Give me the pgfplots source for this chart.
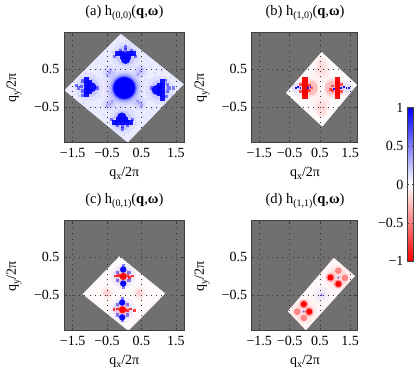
\documentclass[border=0pt]{standalone}
\usepackage{fontspec}
\setmainfont{Liberation Serif}
\usepackage{pgfplots}
\pgfplotsset{compat=1.18}
\definecolor{bg}{gray}{0.44}
\definecolor{frame}{gray}{0.25}
\newcommand{\B}[4]{\addplot[only marks,mark=*,mark size=#2,mark options={draw=#1,draw opacity=0,line width=0pt,fill=#1,fill opacity=#3}] coordinates {#4};}
\newcommand{\Q}[4]{\addplot[only marks,mark=square*,mark size=#2,mark options={draw=#1,draw opacity=0,line width=0pt,fill=#1,fill opacity=#3}] coordinates {#4};}
\newcommand{\sub}[1]{\raisebox{-3.5pt}{\fontsize{10}{10}\selectfont #1}}
\newcommand{\ttl}[2]{(#1) h\sub{#2}(\textbf{q},\textbf{ω})}
\pgfplotsset{
 panel/.style={scale only axis,height=110pt,xmin=-1.75,xmax=1.75,ymin=-1.45,ymax=1.45,
  axis background/.style={fill=bg},axis on top,
  xtick={-1.5,-0.5,0.5,1.5},ytick={-0.5,0.5},
  xticklabels={−1.5,−0.5,0.5,1.5},yticklabels={−0.5,0.5},
  grid=major,grid style={black!80,line width=0.5pt,dash pattern=on 0.6pt off 4.5pt},
  tick style={frame,line width=0.5pt},tick align=inside,major tick length=2.5pt,
  axis line style={frame,line width=1pt},
  tick label style={font=\fontsize{14}{14}\selectfont},
  xticklabel style={yshift=-2pt},yticklabel style={xshift=-1pt},
 },
 lft/.style={panel,width=120.5pt},
 rgt/.style={panel,width=106pt},
}
\begin{document}
\begin{tikzpicture}[x=1pt,y=1pt]
\path[use as bounding box] (0,0) rectangle (417,377);
% ---------- (a)
\begin{axis}[lft,at={(64pt,234pt)},anchor=south west]
\addplot[fill=blue!8!white,draw=none] coordinates {(-0.10,1.43)(1.73,0.10)(0.10,-1.44)(-1.74,-0.06)} -- cycle;
\Q{blue}{1.0}{0.08}{(-1.3,-0.2)(-1.1,0.4)(-0.9,-0.5)(-0.8,0.5)(-0.7,-0.2)(-0.6,0.2)(-0.6,-0.7)(-0.5,0.75)(-0.45,-0.15)(-0.35,0.95)(-0.3,-1.0)(-0.25,0.55)(-0.2,-0.55)(0.2,0.55)(0.25,-0.6)(0.3,1.0)(0.35,-0.95)(0.5,0.8)(0.55,-0.75)(0.6,0.2)(0.65,-0.3)(0.75,0.55)(0.8,-0.55)(0.9,0.4)(1.1,0.45)(1.2,-0.45)(1.35,0.3)(1.4,-0.2)(-1.45,0.15)(-1.2,-0.4)(0.05,1.25)(0.0,-1.25)}
\B{blue}{7}{0.06}{(-0.43,0.41)(0.46,0.44)(-0.43,-0.42)(0.44,-0.40)}
\B{blue}{4.5}{0.08}{(-0.43,0.41)(0.46,0.44)(-0.43,-0.42)(0.44,-0.40)}
\Q{blue}{1.2}{0.22}{(-0.43,0.41)(0.46,0.44)(-0.43,-0.42)(0.44,-0.40)(-0.38,0.48)(0.40,0.36)(-0.36,-0.36)(0.50,-0.46)(-0.5,0.35)(0.52,0.5)(-0.5,-0.48)(0.38,-0.34)}
\B{blue}{20}{0.04}{(0,0)}
\B{blue}{17}{0.08}{(0,0)}
\B{blue}{14.5}{0.16}{(0,0)}
\B{blue}{12.5}{0.40}{(0,0)}
\B{blue}{11}{1}{(0,0)}
\B{blue}{14}{0.05}{(0.04,0.85)(-0.05,-0.85)(1.03,-0.05)(-1.03,0.02)}
\B{blue}{10}{0.10}{(0.04,0.85)(-0.05,-0.85)(1.03,-0.05)(-1.03,0.02)}
% top cluster
\B{blue}{4.8}{0.95}{(0.04,0.76)}
\Q{blue}{2.6}{0.90}{(-0.18,0.90)(-0.07,0.90)(0.04,0.89)(0.15,0.90)(0.27,0.90)(-0.05,0.82)(0.13,0.82)}
\Q{blue}{1.6}{0.5}{(0.04,1.08)(0.04,1.0)(-0.1,0.98)(0.2,0.98)(-0.28,0.84)(0.33,0.82)}
% bottom cluster
\B{blue}{4.8}{0.95}{(-0.07,-0.77)}
\Q{blue}{2.6}{0.90}{(-0.29,-0.91)(-0.18,-0.91)(-0.06,-0.90)(0.07,-0.91)(0.19,-0.91)(-0.16,-0.84)(0.03,-0.84)}
\Q{blue}{1.6}{0.5}{(-0.05,-1.08)(-0.05,-1.0)(-0.2,-0.99)(0.1,-0.99)(-0.38,-0.84)(0.25,-0.84)}
% right cluster
\B{blue}{5.0}{0.95}{(0.94,-0.05)}
\Q{blue}{2.6}{0.90}{(1.12,0.17)(1.12,0.07)(1.12,-0.05)(1.12,-0.16)(1.12,-0.27)(1.02,0.05)(1.02,-0.14)(1.02,-0.05)}
\Q{blue}{1.6}{0.45}{(1.43,0.0)(1.30,0.0)(1.25,0.1)(1.25,-0.1)(0.78,0)(1.22,-0.22)(1.2,0.2)}
% left cluster
\B{blue}{5.0}{0.95}{(-0.95,0.02)}
\Q{blue}{2.6}{0.90}{(-1.09,0.23)(-1.09,0.12)(-1.09,0.02)(-1.09,-0.08)(-1.09,-0.18)(-1,0.14)(-1,-0.1)}
\Q{blue}{1.7}{0.5}{(-1.33,0.0)(-1.25,0.04)(-1.22,-0.08)(-1.38,0.06)(-0.78,0.0)(-1.2,0.18)(-1.2,-0.2)}
\end{axis}
% ---------- (b)
\begin{axis}[rgt,at={(251.7pt,234pt)},anchor=south west]
\addplot[fill=red!2!white,draw=none] coordinates {(0.56,0.95)(1.73,0.08)(0.58,-1.02)(-0.62,-0.13)} -- cycle;
\B{red}{9}{0.03}{(0.56,0.5)(0.56,-0.5)(0.56,0.32)(0.56,-0.32)}
\B{red}{5}{0.06}{(0.56,0.5)(0.56,-0.5)(0.56,0.7)(0.56,-0.65)}
\B{blue}{8}{0.04}{(-0.25,0)(1.38,0)}
\B{blue}{5}{0.07}{(-0.25,0)(1.38,0)}
\B{red}{10}{0.10}{(0.12,0)(0.98,0)}
\B{red}{7}{0.15}{(0.2,0)(0.9,0)}
\Q{red}{2.9}{0.95}{(0,0.21)(0,0.14)(0,0.07)(0,0)(0,-0.07)(0,-0.14)(0,-0.21)}
\Q{red}{2.9}{0.95}{(1.08,0.21)(1.08,0.14)(1.08,0.07)(1.08,0)(1.08,-0.07)(1.08,-0.14)(1.08,-0.21)}
\Q{red}{1.4}{0.6}{(0.16,0.06)(0.24,0)(0.16,-0.06)(0.92,0.05)(0.86,-0.03)(0.92,-0.07)(-0.14,0.1)(-0.14,-0.1)(1.22,0.1)(1.22,-0.1)}
\Q{blue}{0.9}{0.9}{(-0.22,0.03)(-0.14,0.0)(-0.28,0.0)(0.12,0.0)(0.19,0.03)(1.2,0.0)(1.3,0.03)(1.38,-0.01)(1.47,0.0)(0.98,-0.02)}
\end{axis}
% ---------- (c)
\begin{axis}[lft,at={(64pt,46pt)},anchor=south west]
\addplot[fill=red!2!white,draw=none] coordinates {(-0.14,0.52)(1.19,-0.46)(0.12,-1.445)(-1.21,-0.48)} -- cycle;
\B{red}{6}{0.06}{(-0.51,-0.44)(0.44,-0.45)}
\B{red}{3.5}{0.10}{(-0.51,-0.44)(0.44,-0.45)}
\B{blue}{13}{0.04}{(-0.03,-0.01)(-0.05,-0.89)}
\B{blue}{10}{0.05}{(-0.03,-0.01)(-0.05,-0.89)}
\B{red}{7.5}{0.15}{(-0.03,-0.01)(-0.05,-0.89)}
\B{blue}{3.2}{0.95}{(-0.03,0.17)(-0.03,-0.20)(-0.06,-0.70)(-0.06,-1.09)}
\Q{blue}{1.6}{0.45}{(-0.03,0.27)(-0.03,-0.29)(-0.06,-0.60)(-0.06,-1.17)(-0.2,0.1)(0.14,0.1)(-0.2,-0.75)(0.1,-0.75)(-0.2,-1.03)(0.1,-1.03)(-0.2,-0.12)(0.14,-0.12)}
\B{red}{3.6}{0.95}{(-0.03,-0.01)(-0.05,-0.89)}
\Q{red}{1.4}{0.75}{(-0.25,0.0)(-0.16,0.02)(0.11,0.02)(0.16,-0.03)(0.25,0.0)(-0.3,-0.89)(-0.2,-0.87)(0.09,-0.92)(0.19,-0.87)(0.30,-0.91)}
\end{axis}
% ---------- (d)
\begin{axis}[rgt,at={(251.7pt,46pt)},anchor=south west]
\addplot[fill=red!3!white,draw=none] coordinates {(0.96,0.48)(1.66,0.0)(0.04,-1.43)(-0.56,-0.93)} -- cycle;
\B{red}{13}{0.04}{(1.11,-0.04)(-0.03,-0.94)}
\B{red}{9}{0.07}{(1.11,-0.04)(-0.03,-0.94)}
\B{blue}{8}{0.03}{(0.56,-0.5)}
\B{blue}{4}{0.05}{(0.56,-0.5)}
\B{red}{4.5}{0.35}{(1.11,-0.21)(0.85,-0.04)(-0.03,-0.74)(0.15,-0.94)}
\B{red}{3.0}{1}{(1.11,-0.21)(0.85,-0.04)(-0.03,-0.74)(0.15,-0.94)}
\B{red}{3.4}{0.40}{(1.11,0.14)(1.33,-0.05)(-0.25,-0.94)(-0.03,-1.11)}
\B{blue}{1}{0.7}{(1.11,-0.04)(-0.03,-0.94)(0.56,-0.5)}
\end{axis}
% ---------- colorbar
\begin{axis}[scale only axis,width=6.7pt,height=153.3pt,at={(407pt,115.9pt)},anchor=south west,
 xmin=0,xmax=1,ymin=-1,ymax=1,xtick=\empty,ytick={-1,-0.5,0,0.5,1},
 yticklabels={−1,−0.5,0,0.5,1},
 tick label style={font=\fontsize{14}{14}\selectfont},
 tick align=inside,major tick length=2pt,tick style={frame,line width=0.5pt},
 axis line style={frame,line width=0.6pt},axis on top,
 colormap={bwr}{rgb255=(255,0,0) rgb255=(255,255,255) rgb255=(0,0,255)},
 ]
\addplot[patch,shader=interp,point meta=y] coordinates {
(0,-1)(1,-1)(1,0) (0,-1)(1,0)(0,0)
(0,0)(1,0)(1,1) (0,0)(1,1)(0,1)};
\end{axis}
% ---------- text
\node[font=\fontsize{14.5}{14.5}\selectfont] at (124.3,364) {\ttl{a}{(0,0)}};
\node[font=\fontsize{14.5}{14.5}\selectfont] at (305,364) {\ttl{b}{(1,0)}};
\node[font=\fontsize{14.5}{14.5}\selectfont] at (124.3,176) {\ttl{c}{(0,1)}};
\node[font=\fontsize{14.5}{14.5}\selectfont] at (305,176) {\ttl{d}{(1,1)}};
\foreach \x/\y in {124.3/203.5,305/203.5,124.3/15.5,305/15.5}{
 \node[font=\fontsize{14}{14}\selectfont] at (\x,\y) {q\raisebox{-3.5pt}{\fontsize{10}{10}\selectfont x}/2π};}
\foreach \x/\y in {14/289,202/289,14/100.5,202/100.5}{
 \node[font=\fontsize{14}{14}\selectfont,rotate=90] at (\x,\y) {q\raisebox{-3.5pt}{\fontsize{10}{10}\selectfont y}/2π};}
\end{tikzpicture}
\end{document}
